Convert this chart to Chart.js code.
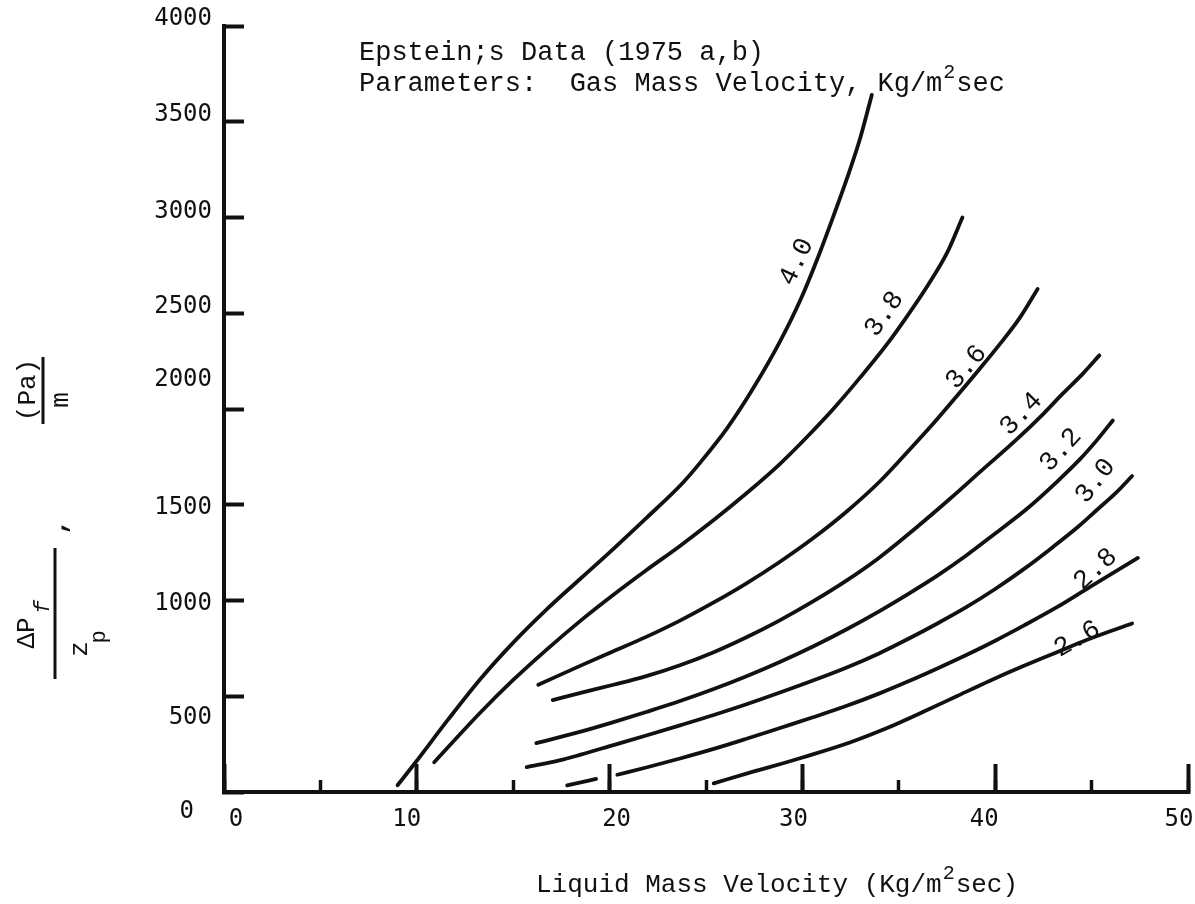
<!DOCTYPE html>
<html>
<head>
    <title>Epstein pressure drop chart</title>
    <script src="https://cdn.jsdelivr.net/npm/chart.js@4.4.1/dist/chart.umd.min.js"></script>
    <style>
        body { margin: 0; background: #fff; }
        #chart { display: block; }
    </style>
</head>
<body>
    <canvas id="chart" width="1195" height="904"></canvas>
    <script>
        // gas mass velocity of each curve (Kg/m2sec)
        var gasVelocities = ['4.0', '3.8', '3.6', '3.4', '3.2', '3.0', '2.8', '2.6'];

        // liquid mass velocity (Kg/m2sec) and dPf/zp (Pa/m)
        var liq40 = [9.0, 9.9, 11.6, 13.3, 15.0, 16.75, 18.5, 20.2, 21.9, 23.8, 24.7, 26.1, 27.4, 28.8, 29.9, 30.8, 31.6, 32.3, 33.0, 33.6];
        var dp40 = [35, 150, 375, 590, 780, 955, 1115, 1270, 1430, 1615, 1720, 1900, 2100, 2345, 2570, 2790, 3005, 3200, 3415, 3640];

        var liq38 = [10.9, 13.3, 15.0, 16.75, 18.5, 20.2, 21.9, 23.65, 25.4, 27.1, 28.8, 30.2, 31.6, 33.0, 34.4, 35.4, 36.5, 37.5, 38.3];
        var dp38 = [155, 415, 585, 745, 895, 1030, 1158, 1285, 1420, 1560, 1710, 1850, 2000, 2165, 2340, 2480, 2645, 2815, 3000];

        var liq36 = [16.3, 18.5, 20.2, 21.9, 23.65, 25.4, 27.1, 28.8, 30.55, 32.3, 34.0, 35.4, 36.8, 38.2, 39.2, 40.25, 41.3, 42.2];
        var dp36 = [560, 660, 735, 810, 895, 990, 1090, 1200, 1325, 1465, 1620, 1770, 1925, 2090, 2210, 2340, 2480, 2627];

        var liq34 = [17.05, 18.5, 20.2, 21.9, 23.65, 25.4, 27.1, 28.8, 30.55, 32.3, 34.0, 35.9, 37.7, 39.2, 41.1, 42.5, 43.5, 44.55, 45.4];
        var dp34 = [480, 518, 560, 605, 662, 730, 808, 895, 995, 1105, 1225, 1380, 1535, 1670, 1840, 1975, 2080, 2185, 2280];

        var liq32 = [16.2, 18.5, 20.2, 21.9, 23.65, 25.4, 27.1, 28.8, 30.55, 32.3, 34.0, 35.5, 37.0, 38.5, 40.0, 41.6, 43.2, 44.4, 45.3, 46.1];
        var dp32 = [255, 315, 365, 418, 475, 538, 605, 678, 760, 850, 945, 1035, 1130, 1235, 1350, 1475, 1620, 1738, 1840, 1940];

        var liq30 = [15.7, 17.4, 18.5, 20.2, 21.9, 23.65, 25.4, 27.1, 28.8, 30.55, 32.3, 34.0, 35.5, 37.0, 38.5, 40.0, 41.5, 43.0, 44.3, 45.3, 46.3, 47.1];
        var dp30 = [130, 165, 195, 245, 295, 348, 402, 458, 518, 582, 650, 725, 800, 880, 965, 1060, 1165, 1280, 1385, 1475, 1566, 1650];

        // this curve is broken where it crosses the 20 tick
        var liq28 = [17.8, 19.3, 19.9, 20.4, 21.9, 23.65, 25.4, 27.1, 28.8, 30.55, 32.3, 34.0, 35.5, 37.0, 38.5, 40.0, 41.5, 43.2, 44.9, 47.4];
        var dp28 = [35, 68, null, 90, 128, 175, 225, 278, 333, 390, 450, 515, 578, 645, 715, 790, 870, 965, 1070, 1222];

        var liq26 = [25.4, 27.4, 29.0, 30.0, 32.5, 34.3, 36.3, 38.0, 39.7, 41.4, 43.2, 44.9, 47.1];
        var dp26 = [45, 105, 150, 180, 260, 330, 420, 500, 580, 655, 730, 800, 880];

        var curveX = [liq40, liq38, liq36, liq34, liq32, liq30, liq28, liq26];
        var curveY = [dp40, dp38, dp36, dp34, dp32, dp30, dp28, dp26];

        var xTickValues = [0, 10, 20, 30, 40, 50];
        var xTickLabels = ['0', '10', '20', '30', '40', '50'];
        var yTickValues = [0, 500, 1000, 1500, 2000, 2500, 3000, 3500, 4000];
        var yTickLabels = ['0', '500', '1000', '1500', '2000', '2500', '3000', '3500', '4000'];

        // ---- drawing settings ----
        var ink = '#111';
        var typeFont = '"Liberation Mono", "DejaVu Sans Mono", monospace';
        var numFont = '"DejaVu Sans Mono", monospace';

        // the typed tick labels do not sit exactly on their ticks
        var xLabelShift = [12, -10, 7, -9, -11, -9];
        var yLabelShift = [[-18, 20], [0, 22], [0, 3], [0, 3], [0, -29], [0, -6], [0, -6], [0, -7], [0, -7]];

        // where each curve's value is written: x, y (data units), angle in degrees
        var curveLabelAt = [
            [29.7, 2768, -65], [34.25, 2496, -55], [38.5, 2219, -50], [41.35, 1974, -46],
            [43.4, 1786, -48], [45.2, 1624, -52], [45.2, 1164, -42], [44.25, 799, -30]
        ];

        function toPoints(xs, ys) {
            var pts = [];
            for (var i = 0; i < xs.length; i++) {
                pts.push({ x: xs[i], y: ys[i] });
            }
            return pts;
        }

        function rotText(ctx, text, x, y, deg) {
            ctx.save();
            ctx.translate(x, y);
            ctx.rotate(deg * Math.PI / 180);
            ctx.fillText(text, 0, 0);
            ctx.restore();
        }

        // text with a raised "2" in the middle, e.g. Kg/m2sec
        function supText(ctx, before, sup, after, x, y, size) {
            ctx.font = size + 'px ' + typeFont;
            ctx.fillText(before, x, y);
            x += ctx.measureText(before).width;
            ctx.font = Math.round(size * 0.75) + 'px ' + typeFont;
            ctx.fillText(sup, x + 1, y - 13);
            x += ctx.measureText(sup).width + 2;
            ctx.font = size + 'px ' + typeFont;
            ctx.fillText(after, x, y);
        }

        var annotations = {
            id: 'annotations',
            afterDraw: function (chart) {
                var ctx = chart.ctx;
                var xs = chart.scales.x;
                var ys = chart.scales.y;
                var i;
                ctx.save();
                ctx.fillStyle = ink;
                ctx.strokeStyle = ink;

                // tick labels
                ctx.font = '24px ' + numFont;
                ctx.textAlign = 'center';
                ctx.textBaseline = 'top';
                for (i = 0; i < xTickValues.length; i++) {
                    ctx.fillText(xTickLabels[i], xs.getPixelForValue(xTickValues[i]) + xLabelShift[i], ys.bottom + 16);
                }
                ctx.textAlign = 'right';
                ctx.textBaseline = 'middle';
                for (i = 0; i < yTickValues.length; i++) {
                    ctx.fillText(yTickLabels[i], 212 + yLabelShift[i][0], ys.getPixelForValue(yTickValues[i]) + yLabelShift[i][1]);
                }

                // curve labels
                ctx.textAlign = 'center';
                ctx.font = '27px ' + typeFont;
                for (i = 0; i < gasVelocities.length; i++) {
                    var p = curveLabelAt[i];
                    rotText(ctx, gasVelocities[i], xs.getPixelForValue(p[0]), ys.getPixelForValue(p[1]), p[2]);
                }

                // heading
                ctx.textAlign = 'left';
                ctx.textBaseline = 'alphabetic';
                ctx.font = '27px ' + typeFont;
                ctx.fillText('Epstein;s Data (1975 a,b)', 359, 60);
                supText(ctx, 'Parameters:  Gas Mass Velocity, Kg/m', '2', 'sec', 359, 91, 27);

                // x title
                supText(ctx, 'Liquid Mass Velocity (Kg/m', '2', 'sec)', 536, 892, 26);

                // y title:  dPf / zp ,  (Pa) / m   (rotated)
                ctx.textAlign = 'center';
                ctx.textBaseline = 'middle';
                ctx.font = '26px ' + typeFont;
                rotText(ctx, '\u0394P', 27, 633, -90);
                ctx.font = 'italic 22px ' + typeFont;
                rotText(ctx, 'f', 43, 607, -90);
                ctx.font = '26px ' + typeFont;
                rotText(ctx, 'z', 80, 649, -90);
                ctx.font = '22px ' + typeFont;
                rotText(ctx, 'p', 99, 637, -90);
                ctx.font = 'bold 26px ' + typeFont;
                rotText(ctx, ',', 58, 527, -90);
                ctx.font = '26px ' + typeFont;
                rotText(ctx, '(Pa)', 28, 390, -90);
                rotText(ctx, 'm', 61, 400, -90);

                ctx.lineWidth = 3;
                ctx.beginPath();
                ctx.moveTo(55, 548);
                ctx.lineTo(55, 679);
                ctx.moveTo(43, 357);
                ctx.lineTo(43, 424);
                ctx.stroke();

                ctx.restore();
            }
        };

        var datasets = [];
        for (var k = 0; k < gasVelocities.length; k++) {
            datasets.push({
                label: gasVelocities[k],
                data: toPoints(curveX[k], curveY[k])
            });
        }

        new Chart(document.getElementById('chart'), {
            type: 'line',
            data: { datasets: datasets },
            options: {
                responsive: false,
                animation: false,
                events: [],
                layout: { padding: { left: 0, top: 26, right: 7, bottom: 0 } },
                plugins: {
                    legend: { display: false },
                    tooltip: { enabled: false }
                },
                elements: {
                    point: { radius: 0 },
                    line: {
                        borderColor: ink,
                        borderWidth: 3.8,
                        borderCapStyle: 'round',
                        cubicInterpolationMode: 'monotone',
                        fill: false
                    }
                },
                scales: {
                    x: {
                        type: 'linear',
                        position: 'bottom',
                        min: 0,
                        max: 50,
                        ticks: { stepSize: 10, display: false },
                        grid: { drawOnChartArea: false, tickLength: -28, tickWidth: 4, color: ink, tickColor: ink },
                        border: { color: ink, width: 4 },
                        afterFit: function (s) {
                            s.height = 112;
                            s.paddingLeft = 0;
                            s.paddingRight = 0;
                        }
                    },
                    // short ticks every 5 units along the same axis line
                    x2: {
                        type: 'linear',
                        axis: 'x',
                        position: { y: 0 },
                        min: 0,
                        max: 50,
                        ticks: { stepSize: 5, display: false },
                        grid: { drawOnChartArea: false, tickLength: -12, tickWidth: 3.5, color: ink, tickColor: ink },
                        border: { display: false }
                    },
                    y: {
                        type: 'linear',
                        position: 'left',
                        min: 0,
                        max: 4000,
                        ticks: { stepSize: 500, display: false },
                        grid: { drawOnChartArea: false, tickLength: -20, tickWidth: 4, color: ink, tickColor: ink },
                        border: { color: ink, width: 4 },
                        afterFit: function (s) {
                            s.width = 224;
                        }
                    }
                }
            },
            plugins: [annotations]
        });
    </script>
</body>
</html>
